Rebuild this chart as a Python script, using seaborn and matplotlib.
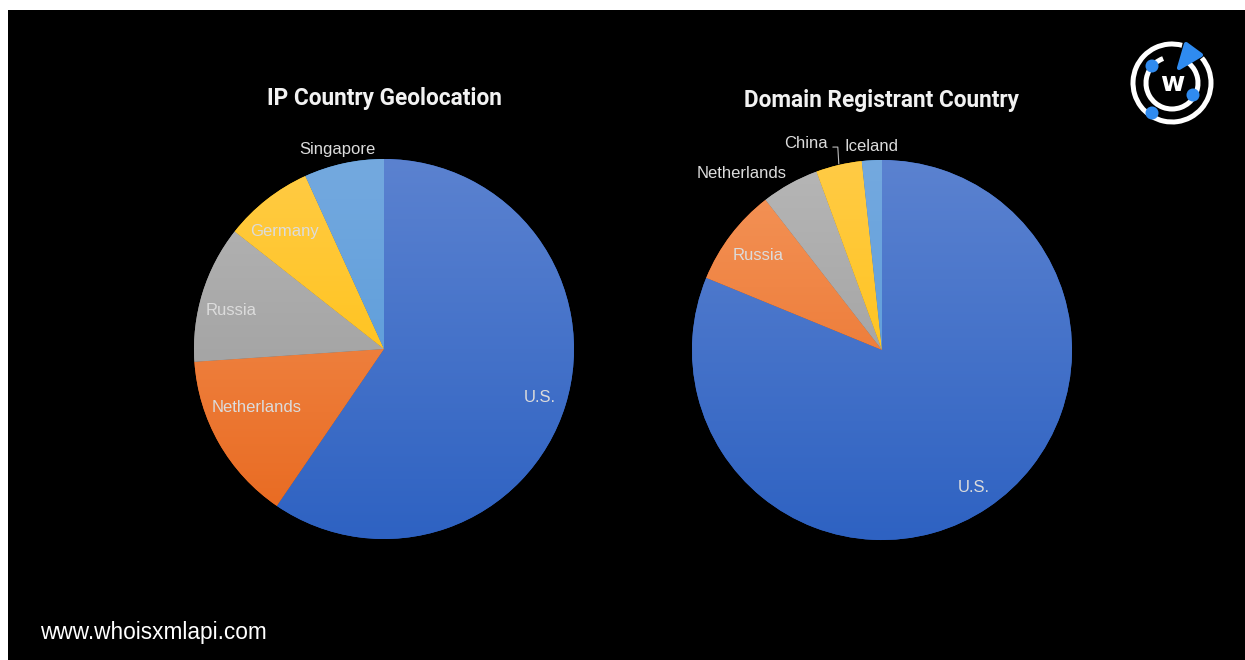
import numpy as np
import matplotlib.pyplot as plt
import matplotlib.patches as mpatches
from matplotlib.colors import to_rgb
import seaborn as sns

# data (percent of each pie)
ip_countries = ['U.S.', 'Netherlands', 'Russia', 'Germany', 'Singapore']
ip_share = [59.6, 14.4, 11.7, 7.6, 6.8]

reg_countries = ['U.S.', 'Russia', 'Netherlands', 'China', 'Iceland']
reg_share = [81.2, 8.3, 4.9, 3.9, 1.7]

ip_title = 'IP Country Geolocation'
reg_title = 'Domain Registrant Country'
footer = 'www.whoisxmlapi.com'

# styling: slice gradients (top, bottom) by colour name
shades = {
    'blue': ('#5B82D0', '#2E62C2'),
    'orange': ('#F4955A', '#E8681E'),
    'gray': ('#B6B6B6', '#969696'),
    'yellow': ('#FFCB45', '#FFBE00'),
    'ltblue': ('#74A9DF', '#4E96D8'),
}
ip_cols = ['blue', 'orange', 'gray', 'yellow', 'ltblue']
reg_cols = ['blue', 'orange', 'gray', 'yellow', 'ltblue']
# label placement: (radius fraction, angular nudge clockwise in degrees)
ip_lab = [(0.86, 0), (0.74, 5), (0.83, -3), (0.81, -2), (1.08, -1)]
reg_lab = [(0.87, 0), (0.82, 0), (1.19, -9.5), (1.16, -7), (1.07, 0)]

sns.set_theme(style='dark')
plt.rcParams['font.family'] = ['Liberation Sans', 'DejaVu Sans']

W, H = 1245, 660
fig = plt.figure(figsize=(W / 100, H / 100), dpi=100, facecolor='white')

# background canvas in pixel coordinates
bg = fig.add_axes([0, 0, 1, 1])
bg.set_xlim(0, W)
bg.set_ylim(H, 0)
bg.axis('off')
bg.add_patch(mpatches.Rectangle((8, 10), W, H, color='black', lw=0))

R = 190
lab_color = '#DCDCDC'


def draw_pie(cx, cy, values, names, cols, labs, title, title_y):
    ax = fig.add_axes([(cx - 200) / W, (H - cy - 200) / H, 400 / W, 400 / H])
    pal = sns.color_palette([shades[c][1] for c in cols])
    wedges, _ = ax.pie(values, colors=pal, startangle=90, counterclock=False,
                       radius=R, wedgeprops=dict(linewidth=0))
    for w, c in zip(wedges, cols):
        top, bot = np.array(to_rgb(shades[c][0])), np.array(to_rgb(shades[c][1]))
        t = np.linspace(0, 1, 256)[:, None, None]
        grad = top * (1 - t) + bot * t
        im = ax.imshow(grad, extent=(-R, R, -R, R), origin='upper',
                       aspect='auto', zorder=w.get_zorder() + 0.1)
        im.set_clip_path(w)
    ax.set_xlim(-200, 200)
    ax.set_ylim(-200, 200)
    ax.set_aspect('equal')
    ax.axis('off')
    ax.patch.set_alpha(0)
    pos = []
    for w, name, (rf, d) in zip(wedges, names, labs):
        th = np.radians((w.theta1 + w.theta2) / 2 - d)
        x, y = rf * R * np.cos(th), rf * R * np.sin(th)
        ax.text(x, y, name, ha='center', va='center', color=lab_color,
                fontsize=12, zorder=10)
        pos.append((x, y, w))
    bg.text(cx, title_y, title, ha='center', va='center', color='#F2F2F2',
            fontsize=16.3, fontweight='bold', family=['Roboto', 'DejaVu Sans'])
    return ax, pos


draw_pie(384, 349, ip_share, ip_countries, ip_cols, ip_lab, ip_title, 98)
ax2, pos2 = draw_pie(882, 350, reg_share, reg_countries, reg_cols, reg_lab,
                     reg_title, 100)

# leader line for the China label
x, y, w = pos2[3]
th = np.radians((w.theta1 + w.theta2) / 2)
ex, ey = R * np.cos(th), R * np.sin(th)
ax2.plot([ex - 6, ex - 1, ex], [y - 4, y - 4, ey + 1], color='#BBBBBB',
         lw=0.8, zorder=9, clip_on=False)

bg.text(40, 632, footer, ha='left', va='center', color='white', fontsize=16.3)

# logo (top right)
lx, ly = 1172, 83
blue = '#2F8BF0'
bg.add_patch(mpatches.Arc((lx, ly), 78, 78, theta1=-40, theta2=285,
                          color='white', lw=3.6))
bg.add_patch(mpatches.Arc((lx, ly), 52, 52, theta1=-70, theta2=250,
                          color='white', lw=3.6))
bg.add_patch(mpatches.Polygon([(1179, 68), (1186, 44), (1201, 55)],
                              closed=True, facecolor=blue, edgecolor=blue,
                              lw=3, joinstyle='round'))
for dx, dy in [(-20, -17), (21, 12), (-20, 30)]:
    bg.add_patch(mpatches.Circle((lx + dx, ly + dy), 6.5, color=blue, lw=0))
bg.text(lx, ly + 1, 'w', ha='center', va='center', color='white',
        fontsize=19, fontweight='bold', family='DejaVu Sans')

fig.savefig('out.png', dpi=100, facecolor='white')
